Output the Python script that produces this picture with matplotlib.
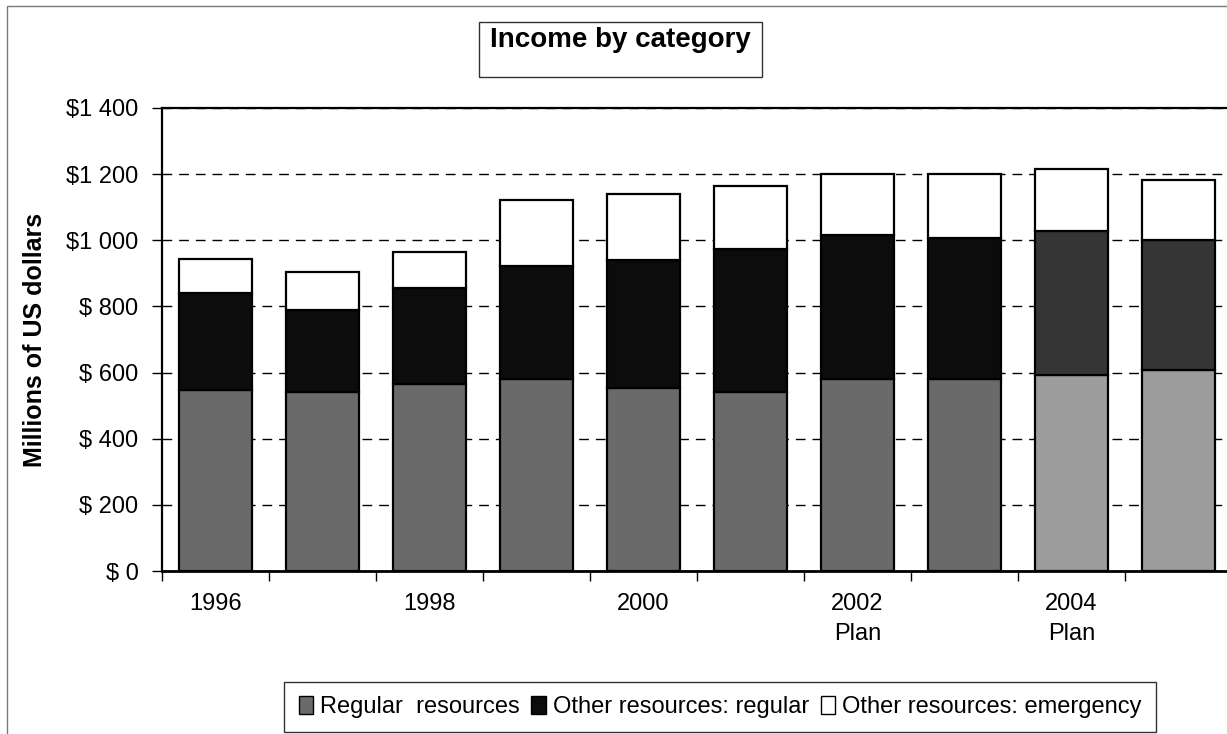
import matplotlib.pyplot as plt
from matplotlib.patches import Rectangle
import numpy as np

plt.rcParams['font.family'] = ['Liberation Sans', 'DejaVu Sans']

# data (millions of US dollars)
years = ["1996", "1997", "1998", "1999", "2000", "2001", "2002", "2003", "2004", "2005"]
tick_labels = ["1996", "", "1998", "", "2000", "", "2002\nPlan", "", "2004\nPlan", ""]
regular = [547, 540, 565, 580, 554, 542, 582, 580, 594, 607]
other_regular = [293, 249, 290, 342, 387, 433, 433, 428, 433, 393]
emergency = [102, 116, 109, 200, 200, 188, 186, 193, 189, 181]
series_names = ["Regular  resources", "Other resources: regular", "Other resources: emergency"]
y_ticks = [0, 200, 400, 600, 800, 1000, 1200, 1400]
y_tick_labels = ["$ 0", "$ 200", "$ 400", "$ 600", "$ 800", "$1 000", "$1 200", "$1 400"]

# colours: the last two (plan) bars are printed a shade lighter
reg_col = ["#6a6a6a"] * 8 + ["#9c9c9c"] * 2
oth_col = ["#0c0c0c"] * 8 + ["#353535"] * 2
emg_col = ["white"] * 10

W, H = 1227, 734
fig = plt.figure(figsize=(W / 100, H / 100), dpi=100)

# outer chart border (cut off at right and bottom in the scan)
fig.patches.append(Rectangle((7 / W, -0.1), 1.2, 1 - 6 / H + 0.1, transform=fig.transFigure,
                             fill=False, edgecolor="#7a7a7a", lw=1))

ax = fig.add_axes([162 / W, 1 - 571 / H, 1070 / W, 463 / H])
x = np.arange(len(years))

ax.bar(x, regular, width=0.68, color=reg_col, edgecolor="black", lw=1.6, zorder=3)
bot = np.array(regular)
ax.bar(x, other_regular, width=0.68, bottom=bot, color=oth_col, edgecolor="black", lw=1.6, zorder=3)
bot = bot + np.array(other_regular)
ax.bar(x, emergency, width=0.68, bottom=bot, color=emg_col, edgecolor="black", lw=1.6, zorder=3)

ax.set_xlim(-0.5, len(years) - 0.5)
ax.set_ylim(0, 1400)

ax.set_yticks(y_ticks)
ax.set_yticklabels(y_tick_labels, fontsize=17)
ax.tick_params(axis="y", direction="out", length=7, width=1, pad=10)

ax.set_xticks(x)
ax.set_xticklabels(tick_labels, fontsize=17, linespacing=1.45, va="top")
ax.tick_params(axis="x", which="major", length=0, pad=16)
ax.set_xticks(np.arange(-0.5, len(years)), minor=True)
ax.tick_params(axis="x", which="minor", direction="out", length=7, width=1)

ax.yaxis.grid(True, linestyle=(0, (7, 5)), color="black", lw=1)
ax.set_axisbelow(True)
for s in ["left", "top"]:
    ax.spines[s].set_linewidth(1.6)
ax.spines["bottom"].set_linewidth(2)
ax.spines["right"].set_visible(False)

fig.text(35 / W, 1 - 340 / H, "Millions of US dollars", rotation=90, fontsize=18,
         fontweight="bold", ha="center", va="center")

# title in its own box
fig.patches.append(Rectangle((479 / W, 1 - 77 / H), 283 / W, 55 / H, transform=fig.transFigure,
                             fill=False, edgecolor="#333333", lw=1))
fig.text(620 / W, 1 - 40 / H, "Income by category", fontsize=20, fontweight="bold",
         ha="center", va="center")

handles = [Rectangle((0, 0), 1, 1, facecolor=c, edgecolor="black", lw=1)
           for c in [reg_col[0], oth_col[0], emg_col[0]]]
leg = fig.legend(handles, series_names, loc="center", bbox_to_anchor=(720 / W, 1 - 707 / H),
                 ncol=3, fontsize=17, frameon=True, fancybox=False, edgecolor="black",
                 handlelength=0.6, handleheight=0.8, handletextpad=0.3, columnspacing=0.5,
                 borderpad=0.6)
leg.get_frame().set_linewidth(1)

fig.savefig("out.png", dpi=100)
